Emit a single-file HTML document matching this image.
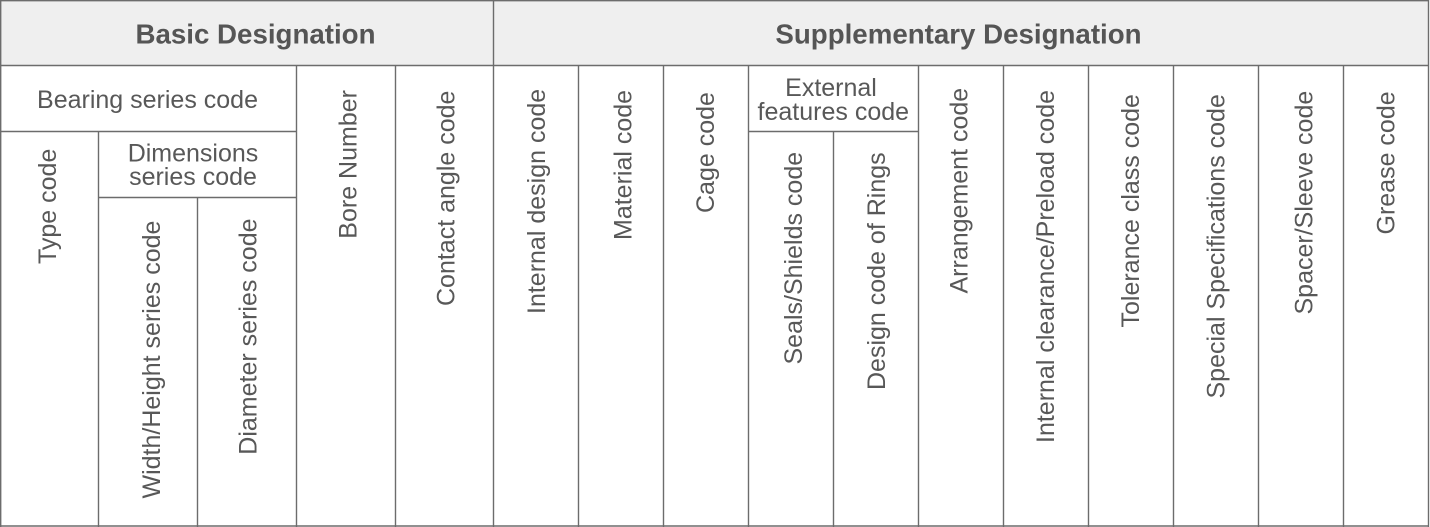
<!DOCTYPE html>
<html>
<head>
<meta charset="utf-8">
<style>
html,body{margin:0;padding:0;background:#fff;}
svg{display:block;}
text{font-family:"Liberation Sans",Arial,sans-serif;fill:#585858;}
.h{font-size:27.7px;font-weight:bold;fill:#555;}
.t{font-size:25px;}
</style>
</head>
<body>
<svg width="1430" height="527" viewBox="0 0 1430 527" xmlns="http://www.w3.org/2000/svg">
<rect x="0" y="0" width="1430" height="527" fill="#fff"/>
<rect x="0" y="0" width="1429" height="66" fill="#efefef"/>
<g stroke="#6c6c6c" stroke-width="1.4" fill="none">
  <line x1="0" y1="0.7" x2="1429" y2="0.7"/>
  <line x1="0" y1="65.5" x2="1429" y2="65.5"/>
  <line x1="0" y1="526" x2="1429" y2="526"/>
  <line x1="0.7" y1="0" x2="0.7" y2="527"/>
  <line x1="1428.5" y1="0" x2="1428.5" y2="527"/>
  <line x1="493.5" y1="0" x2="493.5" y2="527"/>
  <line x1="296.5" y1="65.5" x2="296.5" y2="527"/>
  <line x1="395.5" y1="65.5" x2="395.5" y2="527"/>
  <line x1="0" y1="131.5" x2="296.5" y2="131.5"/>
  <line x1="98.5" y1="131.5" x2="98.5" y2="527"/>
  <line x1="98.5" y1="197.5" x2="296.5" y2="197.5"/>
  <line x1="197.5" y1="197.5" x2="197.5" y2="527"/>
  <line x1="578.5" y1="65.5" x2="578.5" y2="527"/>
  <line x1="663.5" y1="65.5" x2="663.5" y2="527"/>
  <line x1="748.5" y1="65.5" x2="748.5" y2="527"/>
  <line x1="748.5" y1="131.5" x2="918.5" y2="131.5"/>
  <line x1="833.5" y1="131.5" x2="833.5" y2="527"/>
  <line x1="918.5" y1="65.5" x2="918.5" y2="527"/>
  <line x1="1003.5" y1="65.5" x2="1003.5" y2="527"/>
  <line x1="1088.5" y1="65.5" x2="1088.5" y2="527"/>
  <line x1="1173.5" y1="65.5" x2="1173.5" y2="527"/>
  <line x1="1258.5" y1="65.5" x2="1258.5" y2="527"/>
  <line x1="1343.5" y1="65.5" x2="1343.5" y2="527"/>
</g>

<text class="h" x="255.5" y="43.3" text-anchor="middle">Basic Designation</text>
<text class="h" x="958.5" y="43.3" text-anchor="middle">Supplementary Designation</text>

<text class="t" x="147.5" y="108" text-anchor="middle">Bearing series code</text>
<text class="t" x="193" y="161.7" text-anchor="middle">Dimensions</text>
<text class="t" x="193" y="185" text-anchor="middle">series code</text>
<text class="t" x="831" y="96" text-anchor="middle">External</text>
<text class="t" x="833.3" y="120" text-anchor="middle">features code</text>

<text class="t" transform="translate(56,264) rotate(-90)">Type code</text>
<text class="t" transform="translate(160,498.5) rotate(-90)">Width/Height series code</text>
<text class="t" transform="translate(256.5,454.7) rotate(-90)">Diameter series code</text>
<text class="t" transform="translate(356.5,238.7) rotate(-90)">Bore Number</text>
<text class="t" transform="translate(454.5,306) rotate(-90)">Contact angle code</text>
<text class="t" transform="translate(545,314) rotate(-90)">Internal design code</text>
<text class="t" transform="translate(631.5,240) rotate(-90)">Material code</text>
<text class="t" transform="translate(714,213) rotate(-90)">Cage code</text>
<text class="t" transform="translate(802,364.5) rotate(-90)">Seals/Shields code</text>
<text class="t" transform="translate(885,390) rotate(-90)">Design code of Rings</text>
<text class="t" transform="translate(967.5,293.5) rotate(-90)">Arrangement code</text>
<text class="t" transform="translate(1054,443) rotate(-90)">Internal clearance/Preload code</text>
<text class="t" transform="translate(1139,327.5) rotate(-90)">Tolerance class code</text>
<text class="t" transform="translate(1224.5,398.5) rotate(-90)">Special Specifications code</text>
<text class="t" transform="translate(1312.5,314.5) rotate(-90)">Spacer/Sleeve code</text>
<text class="t" transform="translate(1394.5,234.5) rotate(-90)">Grease code</text>
</svg>
</body>
</html>
